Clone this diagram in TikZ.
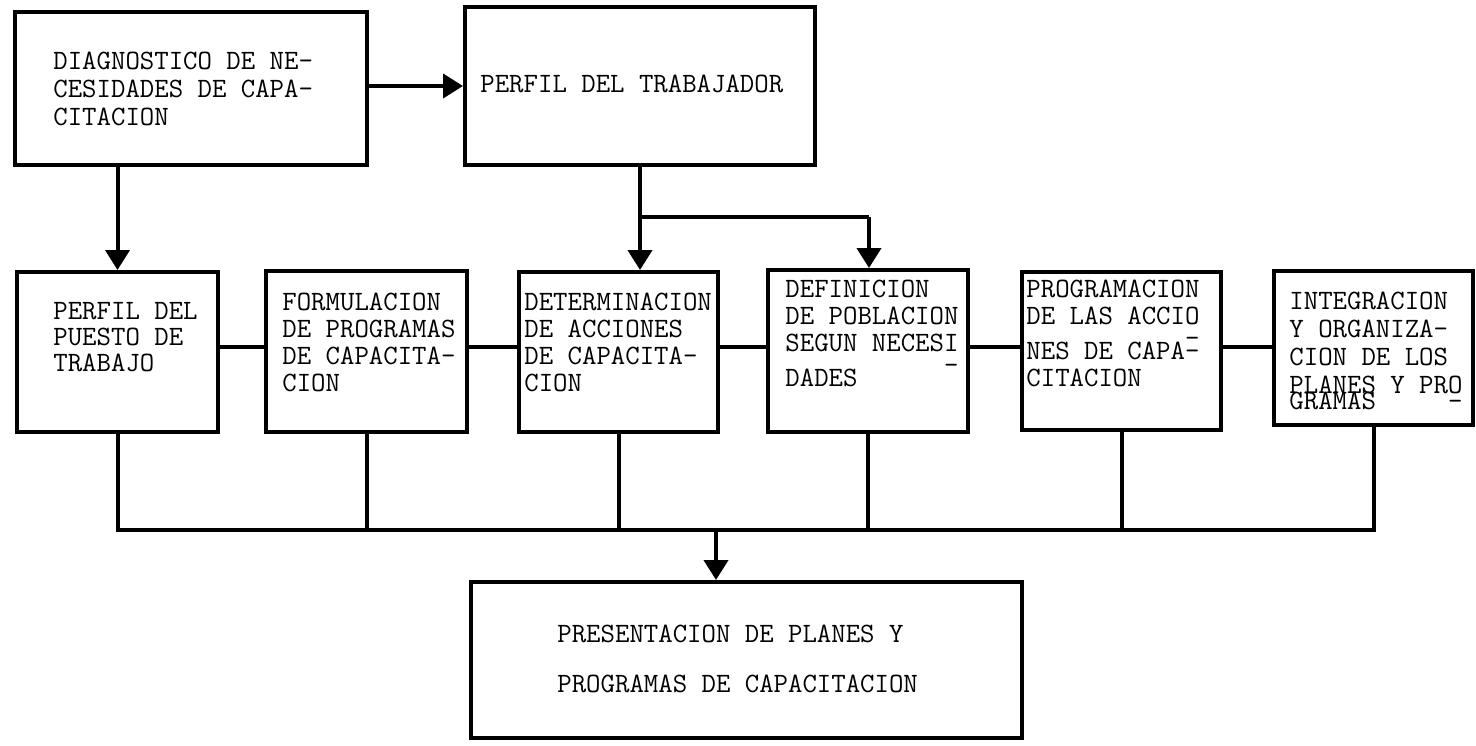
\documentclass[tikz,border=0pt]{standalone}
\usetikzlibrary{arrows.meta}
\newcommand\lowbar[1]{\llap{\raisebox{#1}{\_}}}
\begin{document}
\begin{tikzpicture}[x=0.5pt,y=-0.5pt,
  box/.style={draw, line width=2pt, inner sep=0pt},
  txt/.style={anchor=base west, align=left, inner sep=0pt, font=\ttfamily\fontsize{14pt}{13.5pt}\selectfont},
  conn/.style={line width=2pt},
  arr/.style={line width=2pt, -{Triangle[width=12pt,length=10pt]}},
]
\useasboundingbox (0,0) rectangle (1476,745);

% boxes
\node[box, minimum width=176pt, minimum height=76.5pt] (diag) at (191,88.5) {};
\node[box, minimum width=175pt, minimum height=79pt] (perf) at (640,86) {};
\node[box, minimum width=100.5pt, minimum height=80pt] (b1) at (117.5,352) {};
\node[box, minimum width=100.5pt, minimum height=80.5pt] (b2) at (366.5,351.5) {};
\node[box, minimum width=99.5pt, minimum height=80pt] (b3) at (618.5,352) {};
\node[box, minimum width=100pt, minimum height=81pt] (b4) at (868,351) {};
\node[box, minimum width=99.5pt, minimum height=79pt] (b5) at (1121.5,351) {};
\node[box, minimum width=99.5pt, minimum height=77pt] (b6) at (1373.5,348) {};
\node[box, minimum width=275.5pt, minimum height=78pt] (pres) at (746.5,660) {};

% texts (anchored at the baseline of the last line)
\node[txt, font=\ttfamily\fontsize{14pt}{14pt}\selectfont] (t0) at (53,125) {DIAGNOSTICO DE NE-\\CESIDADES DE CAPA-\\CITACION};
\node[txt] (t1) at (480,92) {PERFIL DEL TRABAJADOR};
\node[txt, font=\ttfamily\fontsize{14pt}{13pt}\selectfont] (t2) at (53,371) {PERFIL DEL\\PUESTO DE\\TRABAJO};
\node[txt] (t3) at (282,391) {FORMULACION\\DE PROGRAMAS\\DE CAPACITA-\\CION};
\node[txt] (t4) at (524,391) {DETERMINACION\\DE ACCIONES\\DE CAPACITA-\\CION};
\node[txt] (t5) at (785,386) {DEFINICION\\DE POBLACION\\SEGUN NECESI\lowbar{-4.5pt}\\DADES};
\node[txt] (t6) at (1026,386) {PROGRAMACION\\DE LAS ACCIO\lowbar{-4.5pt}\\NES DE CAPA-\\CITACION};
\node[txt, font=\ttfamily\fontsize{14pt}{14pt}\selectfont] (t7) at (1289,409) {INTEGRACION\\Y ORGANIZA-\\CION DE LOS\\PLANES Y PRO\lowbar{-1.5pt}\\[-6pt]GRAMAS};
\node[txt, font=\ttfamily\fontsize{14pt}{25pt}\selectfont] (t8) at (557,692) {PRESENTACION DE PLANES Y\\PROGRAMAS DE CAPACITACION};

% top connectors
\draw[arr] (diag.east |- perf.west) -- (perf.west);
\draw[arr] (b1.north |- diag.south) -- (b1.north);
\coordinate (br) at (640,217);
\coordinate (br2) at (869,217);
\draw[conn] (perf.south) -- (br) -- (br2);
\draw[arr] (br) -- (br |- b3.north);
\draw[arr] (br2) -- (br2 |- b4.north);

% row connectors
\coordinate (rowy) at (0,347);
\draw[conn] (b1.east |- rowy) -- (b2.west |- rowy);
\draw[conn] (b2.east |- rowy) -- (b3.west |- rowy);
\draw[conn] (b3.east |- rowy) -- (b4.west |- rowy);
\draw[conn] (b4.east |- rowy) -- (b5.west |- rowy);
\draw[conn] (b5.east |- rowy) -- (b6.west |- rowy);

% bus
\coordinate (bus) at (0,530);
\draw[conn] (b1.south) -- (b1.south |- bus) -- (b6.south |- bus) -- (b6.south);
\draw[conn] (b2.south) -- (b2.south |- bus);
\draw[conn] (b3.south) -- (b3.south |- bus);
\draw[conn] (b4.south) -- (b4.south |- bus);
\draw[conn] (b5.south) -- (b5.south |- bus);
\coordinate (busarr) at (716,530);
\draw[arr] (busarr) -- (busarr |- pres.north);
\end{tikzpicture}
\end{document}
